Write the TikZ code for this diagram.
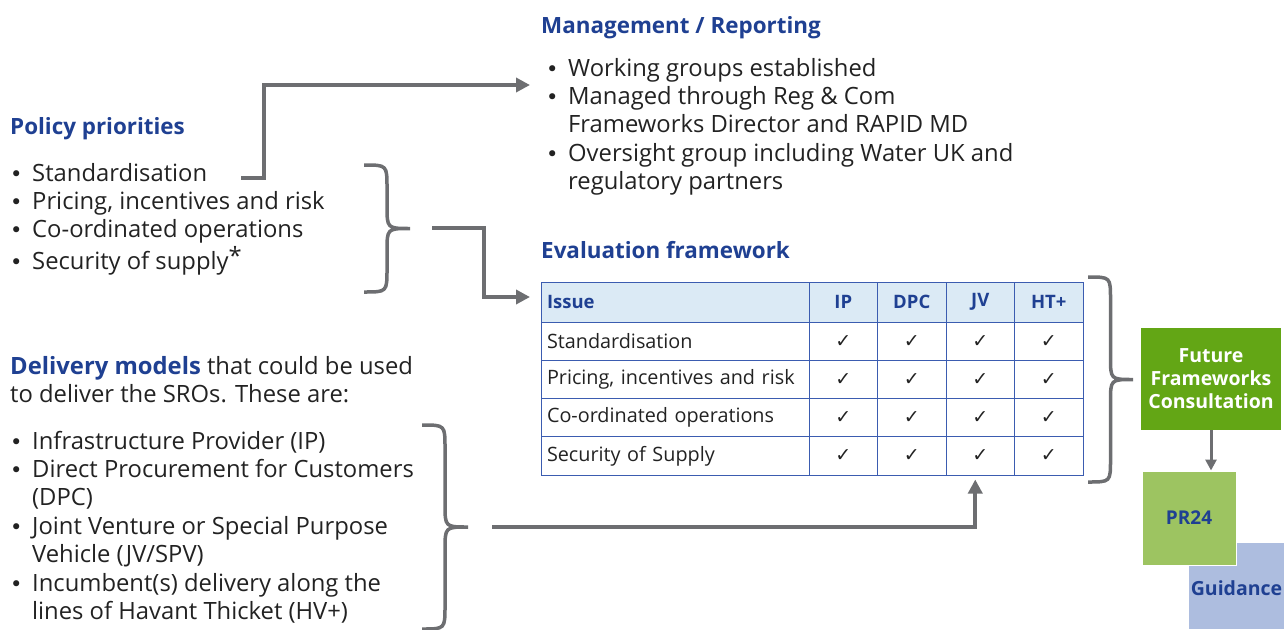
\documentclass[tikz,border=0pt]{standalone}
\usepackage{fontspec}
\setmainfont{Open Sans}
\newfontfamily\tickfont{DejaVu Sans}
\usetikzlibrary{arrows.meta}

\definecolor{titleblue}{RGB}{31,64,146}
\definecolor{gridblue}{RGB}{59,92,176}
\definecolor{headfill}{RGB}{219,234,245}
\definecolor{bodytext}{RGB}{34,34,34}
\definecolor{arrowgray}{RGB}{109,110,113}
\definecolor{consgreen}{RGB}{99,166,21}
\definecolor{prgreen}{RGB}{157,196,97}
\definecolor{guidblue}{RGB}{173,189,223}

\newcommand{\bul}{\makebox[23pt][l]{\hspace{1pt}{\tickfont\fontsize{21}{21}\selectfont •}}}
\newcommand{\chk}{{\tickfont\fontsize{19}{19}\selectfont ✓}}
% right curly brace: x, top y, bottom y, width
\newcommand{\curlybrace}[4]{%
  \draw[curly] (#1,#2) .. controls ({#1+#4/2},#2) .. ({#1+#4/2},{#2+#4/2})
    -- ({#1+#4/2},{(#2+#3)/2-#4/2}) .. controls ({#1+#4/2},{(#2+#3)/2}) .. ({#1+#4},{(#2+#3)/2})
    .. controls ({#1+#4/2},{(#2+#3)/2}) .. ({#1+#4/2},{(#2+#3)/2+#4/2})
    -- ({#1+#4/2},{#3-#4/2}) .. controls ({#1+#4/2},#3) .. (#1,#3);}

\begin{document}
\begin{tikzpicture}[x=1pt, y=-1pt,
    title/.style={anchor=base west, inner sep=0pt, text=titleblue, font=\fontsize{22.4}{28}\selectfont\bfseries},
    list/.style={anchor=north west, inner sep=0pt, text=bodytext, font=\fontsize{23.8}{28.4}\selectfont},
    cell/.style={draw=gridblue, line width=1pt, minimum width=68.5pt, minimum height=38.25pt, inner sep=0pt, text=bodytext, font=\fontsize{19.8}{22}\selectfont},
    hcell/.style={cell, fill=headfill, minimum height=40pt, text=titleblue, font=\fontsize{18.5}{22}\selectfont\bfseries},
    issue/.style={text width=256pt, inner xsep=6pt, align=left},
    box/.style={inner sep=0pt, font=\fontsize{19.5}{23}\selectfont\bfseries, align=center},
    flow/.style={draw=arrowgray, line width=4pt, -{Triangle[length=14pt, width=14pt]}},
    curly/.style={draw=arrowgray, line width=3.5pt}]
  \useasboundingbox (0,0) rectangle (1284,629);

  \node [title] (mgmt-t) at (541,33) {Management / Reporting};
  \node [list] (mgmt) at (545,56) {\begin{tabular}{@{}l@{}l@{}}
      \bul & Working groups established\\
      \bul & Managed through Reg \& Com\\
           & Frameworks Director and RAPID MD\\
      \bul & Oversight group including Water UK and\\
           & regulatory partners
    \end{tabular}};

  \node [title] (policy-t) at (10,134) {Policy priorities};
  \node [list] (policy) at (9,161) {\begin{tabular}{@{}l@{}l@{}}
      \bul & Standardisation\\
      \bul & Pricing, incentives and risk\\
      \bul & Co-ordinated operations\\
      \bul & Security of supply\raisebox{5pt}{*}
    \end{tabular}};

  \node [list] (models-t) at (10,354) {\begin{tabular}{@{}l@{}}
      {\color{titleblue}\bfseries Delivery models} that could be used\\
      to deliver the SROs. These are:
    \end{tabular}};
  \node [list] (models) at (9,429) {\begin{tabular}{@{}l@{}l@{}}
      \bul & Infrastructure Provider (IP)\\
      \bul & Direct Procurement for Customers\\
           & (DPC)\\
      \bul & Joint Venture or Special Purpose\\
           & Vehicle (JV/SPV)\\
      \bul & Incumbent(s) delivery along the\\
           & lines of Havant Thicket (HV+)
    \end{tabular}};

  \node [title] (eval-t) at (541,258) {Evaluation framework};
  \node [hcell, issue] (iss) at (675,302) {Issue};
  \node [hcell] (ip) at (843.25,302) {IP};
  \node [hcell] (dpc) at (911.75,302) {DPC};
  \node [hcell] (jv) at (980.25,302) {JV};
  \node [hcell] (ht) at (1048.75,302) {HT+};
  \node [cell, issue] (s1) at (675,341.125) {Standardisation};
  \node [cell] (s1ip) at (843.25,341.125) {\chk};
  \node [cell] (s1dpc) at (911.75,341.125) {\chk};
  \node [cell] (s1jv) at (980.25,341.125) {\chk};
  \node [cell] (s1ht) at (1048.75,341.125) {\chk};
  \node [cell, issue] (s2) at (675,379.375) {Pricing, incentives and risk};
  \node [cell] (s2ip) at (843.25,379.375) {\chk};
  \node [cell] (s2dpc) at (911.75,379.375) {\chk};
  \node [cell] (s2jv) at (980.25,379.375) {\chk};
  \node [cell] (s2ht) at (1048.75,379.375) {\chk};
  \node [cell, issue] (s3) at (675,417.625) {Co-ordinated operations};
  \node [cell] (s3ip) at (843.25,417.625) {\chk};
  \node [cell] (s3dpc) at (911.75,417.625) {\chk};
  \node [cell] (s3jv) at (980.25,417.625) {\chk};
  \node [cell] (s3ht) at (1048.75,417.625) {\chk};
  \node [cell, issue] (s4) at (675,455.875) {Security of Supply};
  \node [cell] (s4ip) at (843.25,455.875) {\chk};
  \node [cell] (s4dpc) at (911.75,455.875) {\chk};
  \node [cell] (s4jv) at (980.25,455.875) {\chk};
  \node [cell] (s4ht) at (1048.75,455.875) {\chk};

  \node [box, fill=consgreen, text=white, minimum width=140pt, minimum height=102pt] (ffc) at (1211,379) {Future\\Frameworks\\Consultation};
  \node [box, fill=guidblue, text=titleblue, minimum width=95pt, minimum height=86pt, text depth=0pt, font=\fontsize{19.5}{22}\selectfont\bfseries] (guid) at (1236.5,586) {\raisebox{-4pt}{Guidance}};
  \node [box, fill=prgreen, text=titleblue, draw=white, line width=1pt, minimum width=94pt, minimum height=94pt, font=\fontsize{19}{22}\selectfont\bfseries] (pr24) at (1189,518) {PR24};

  \curlybrace{364}{165}{292}{46}
  \curlybrace{1088}{277}{482}{45}
  \curlybrace{422}{425}{629}{46}

  \coordinate (std-out) at (241,178);
  \coordinate (mgmt-in) at (530,85);
  \coordinate (policy-out) at (432,228);
  \coordinate (eval-in) at (530,297);
  \coordinate (models-out) at (492,527);
  \draw [flow] (std-out) -- ++(23,0) |- (mgmt-in);
  \draw [flow] (policy-out) -- ++(52,0) |- (eval-in);
  \draw [flow] (models-out) -| ([xshift=-5pt, yshift=-4pt]s4jv.south);
  \draw [flow, line width=3pt, -{Triangle[length=11pt, width=11pt]}] (ffc.south) -- (ffc.south |- pr24.north);
\end{tikzpicture}
\end{document}
